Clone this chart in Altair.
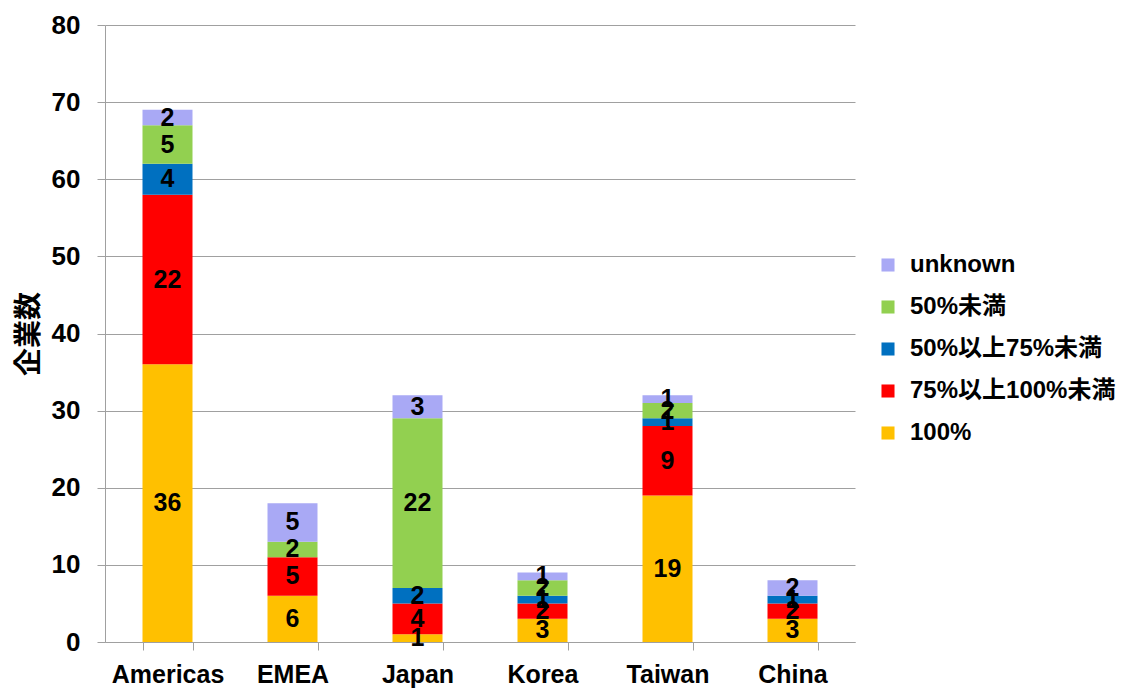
import altair as alt
import pandas as pd

# Regions along the x axis
regions = ["Americas", "EMEA", "Japan", "Korea", "Taiwan", "China"]

# Ownership ratio categories, from the bottom of each stack to the top
groups = ["100%", "75%以上100%未満", "50%以上75%未満", "50%未満", "unknown"]
colors = ["#FFC000", "#FF0000", "#0070C0", "#92D050", "#A9A9F5"]

# Number of companies per region for each category
v_100 = [36, 6, 1, 3, 19, 3]
v_75_100 = [22, 5, 4, 2, 9, 2]
v_50_75 = [4, 0, 2, 1, 1, 1]
v_lt50 = [5, 2, 22, 2, 2, 0]
v_unknown = [2, 5, 3, 1, 1, 2]

series = [v_100, v_75_100, v_50_75, v_lt50, v_unknown]
rows = []
for gi, (g, vals) in enumerate(zip(groups, series)):
    for r, v in zip(regions, vals):
        rows.append({"region": r, "group": g, "order": gi, "count": v})
df = pd.DataFrame(rows)

FONT = "Liberation Sans, Noto Sans CJK JP, sans-serif"
legend_order = list(reversed(groups))
legend_colors = list(reversed(colors))

base = alt.Chart(df).transform_filter("datum.count > 0").transform_stack(
    stack="count",
    as_=["y0", "y1"],
    groupby=["region"],
    sort=[alt.SortField("order", order="ascending")],
).transform_calculate(mid="(datum.y0 + datum.y1) / 2")

x_enc = alt.X(
    "region:N",
    sort=regions,
    title=None,
    scale=alt.Scale(paddingInner=0.6, paddingOuter=0.3),
    axis=alt.Axis(
        labelAngle=0,
        labelFont=FONT,
        labelFontSize=25,
        labelFontWeight="bold",
        labelColor="#000000",
        labelPadding=12,
        tickBand="extent",
        tickSize=8,
        tickColor="#a0a0a0",
        domainColor="#a0a0a0",
        grid=False,
    ),
)

bars = base.mark_bar().encode(
    x=x_enc,
    y=alt.Y(
        "y0:Q",
        title="企業数",
        scale=alt.Scale(domain=[0, 80]),
        axis=alt.Axis(
            values=list(range(0, 81, 10)),
            labelFont=FONT,
            labelFontSize=26,
            labelFontWeight="bold",
            labelColor="#000000",
            labelPadding=17,
            tickSize=8,
            tickColor="#a0a0a0",
            domainColor="#a0a0a0",
            gridColor="#a0a0a0",
            titleFont=FONT,
            titleFontSize=28,
            titleFontWeight="bold",
            titleColor="#000000",
            titlePadding=8,
        ),
    ),
    y2="y1:Q",
    color=alt.Color(
        "group:N",
        title=None,
        scale=alt.Scale(domain=legend_order, range=legend_colors),
        legend=alt.Legend(
            orient="none",
            legendX=771,
            legendY=228,
            symbolType="square",
            symbolSize=170,
            symbolStrokeWidth=0,
            labelFont=FONT,
            labelFontSize=24,
            labelFontWeight="bold",
            labelColor="#000000",
            labelOffset=10,
            rowPadding=18,
            labelLimit=400,
        ),
    ),
)

labels = base.mark_text(
    font=FONT, fontSize=25, fontWeight="bold", color="#000000", baseline="middle"
).encode(
    x=alt.X("region:N", sort=regions),
    y="mid:Q",
    text="count:Q",
)

chart = (
    alt.layer(bars, labels)
    .properties(
        width=750,
        height=617,
        autosize="none",
        padding={"left": 105, "top": 25, "right": 286, "bottom": 51},
        background="#ffffff",
    )
    .configure_view(stroke=None)
)

chart.save("out.html", embed_options={"renderer": "svg", "actions": False})
